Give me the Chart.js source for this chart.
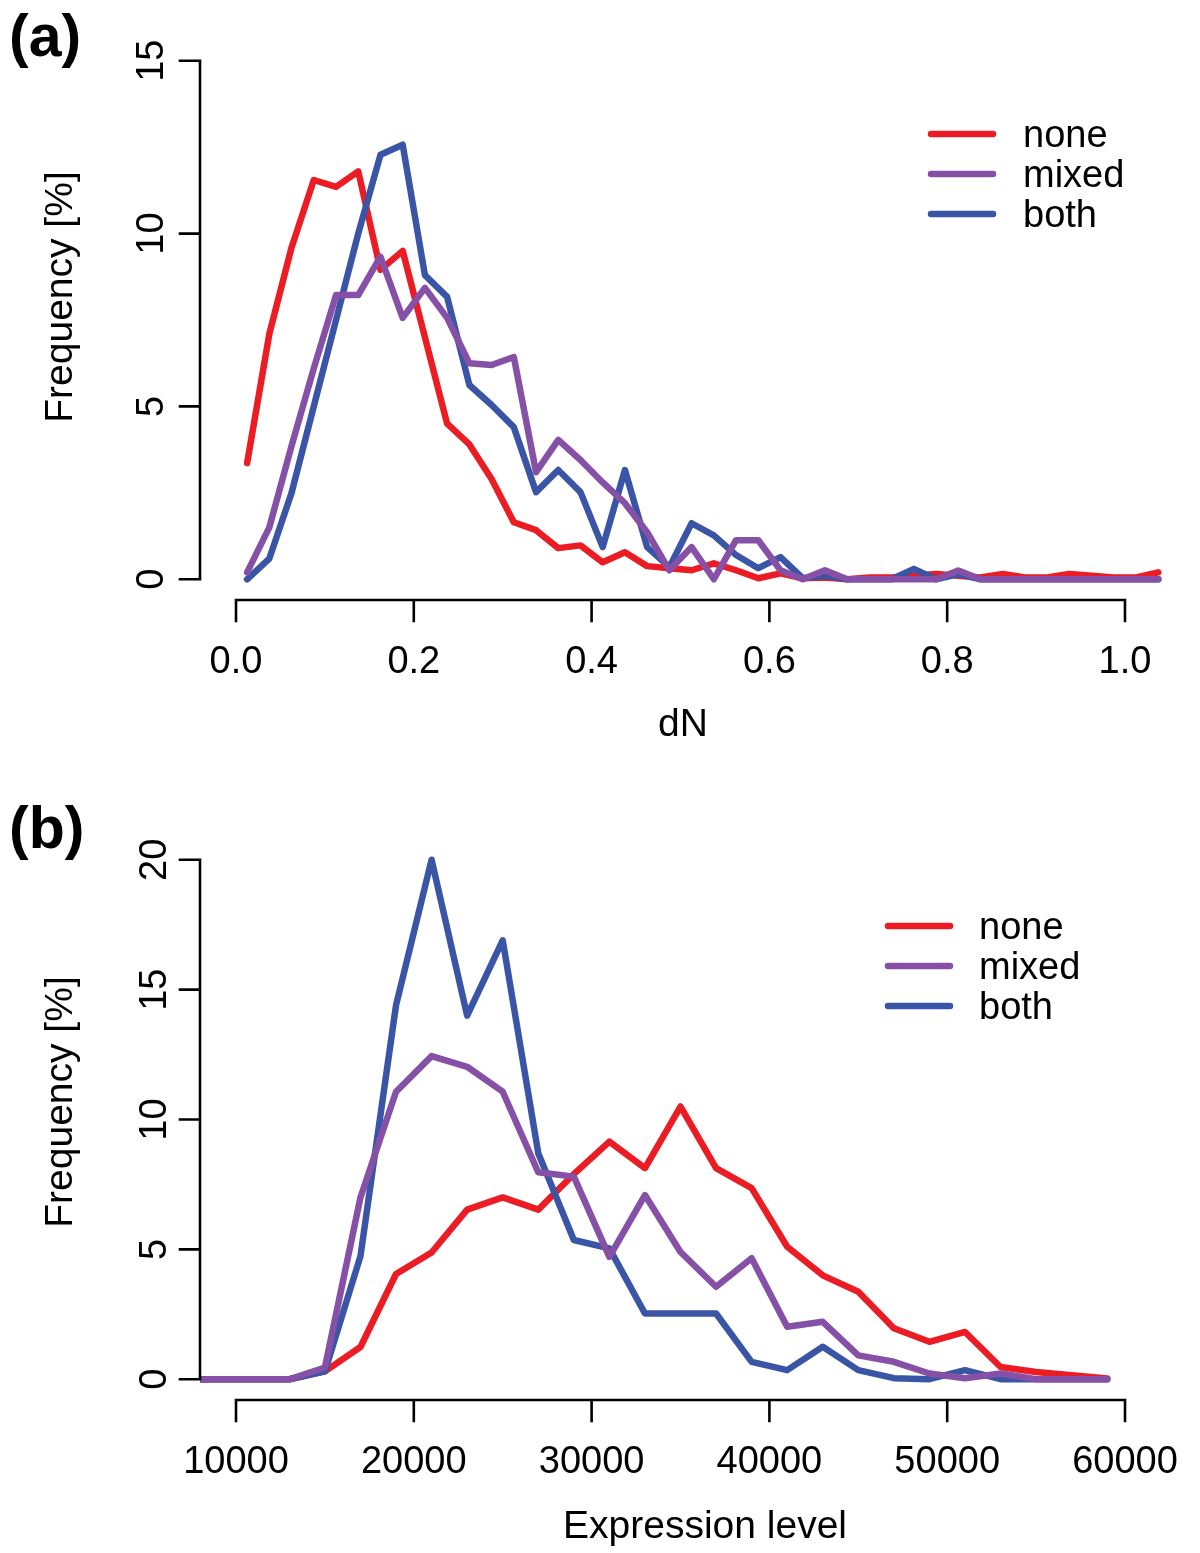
<!DOCTYPE html>
<html><head><meta charset="utf-8">
<script src="https://cdn.jsdelivr.net/npm/chart.js@4.4.1/dist/chart.umd.min.js"></script>
<style>
html,body{margin:0;padding:0;background:#fff;}
#wrap{position:relative;width:1200px;height:1553px;overflow:hidden;}
#ca{position:absolute;left:0;top:0;}
#cb{position:absolute;left:0;top:776px;}
</style></head><body>
<div id="wrap">
<canvas id="ca" width="1200" height="776"></canvas>
<canvas id="cb" width="1200" height="777"></canvas>
</div>
<script>
// ---------- Panel (a): dN ----------
const dnMid = [0.0125,0.0375,0.0625,0.0875,0.1125,0.1375,0.1625,0.1875,0.2125,0.2375,
  0.2625,0.2875,0.3125,0.3375,0.3625,0.3875,0.4125,0.4375,0.4625,0.4875,
  0.5125,0.5375,0.5625,0.5875,0.6125,0.6375,0.6625,0.6875,0.7125,0.7375,
  0.7625,0.7875,0.8125,0.8375,0.8625,0.8875,0.9125,0.9375,0.9625,0.9875,
  1.0125,1.0375];
const dnNone  = [3.36,7.1,9.6,11.55,11.35,11.8,8.95,9.5,7.0,4.5,
  3.9,2.9,1.65,1.42,0.9,0.98,0.49,0.78,0.38,0.32,
  0.26,0.46,0.26,0.03,0.17,0.03,0.05,0.0,0.05,0.05,
  0.1,0.15,0.1,0.05,0.15,0.05,0.05,0.15,0.1,0.05,
  0.05,0.2];
const dnMixed = [0.2,1.5,3.86,6.1,8.22,8.22,9.33,7.56,8.43,7.56,
  6.25,6.2,6.43,3.1,4.03,3.45,2.8,2.2,1.36,0.26,
  0.93,0.0,1.13,1.13,0.26,0.0,0.26,0.0,0.0,0.0,
  0.0,0.0,0.25,0.0,0.0,0.0,0.0,0.0,0.0,0.0,
  0.0,0.0];
const dnBoth  = [0.0,0.6,2.5,5.0,7.5,10.0,12.28,12.57,8.8,8.17,
  5.62,5.04,4.4,2.52,3.16,2.52,0.93,3.16,0.93,0.35,
  1.62,1.27,0.7,0.32,0.64,0.03,0.1,0.0,0.0,0.0,
  0.3,0.0,0.15,0.0,0.0,0.0,0.0,0.0,0.0,0.0,
  0.0,0.0];
const dnXTicks = [0.0,0.2,0.4,0.6,0.8,1.0];
const dnXLabels = ["0.0","0.2","0.4","0.6","0.8","1.0"];
const dnYTicks = [0,5,10,15];

// ---------- Panel (b): Expression level ----------
const exMid = [7000,9000,11000,13000,15000,17000,19000,21000,23000,25000,
  27000,29000,31000,33000,35000,37000,39000,41000,43000,45000,
  47000,49000,51000,53000,55000,57000,59000];
const exNone  = [0,0,0,0,0.3,1.24,4.05,4.88,6.53,7.0,
  6.53,7.9,9.15,8.13,10.5,8.13,7.36,5.1,4.0,3.37,
  1.96,1.44,1.82,0.47,0.28,0.15,0.03];
const exMixed = [0,0,0,0,0.45,7.0,11.07,12.44,12.03,11.07,
  7.97,7.8,4.71,7.09,4.9,3.56,4.66,2.02,2.21,0.92,
  0.67,0.22,0.04,0.22,0,0,0];
const exBoth  = [0,0,0,0,0.3,4.74,14.4,20.0,14.0,16.9,
  8.7,5.36,5.04,2.53,2.53,2.53,0.67,0.35,1.25,0.35,
  0.04,0,0.35,0,0,0,0];
const exXTicks = [10000,20000,30000,40000,50000,60000];
const exXLabels = ["10000","20000","30000","40000","50000","60000"];
const exYTicks = [0,5,10,15,20];

const seriesNames = ["none","mixed","both"];
const seriesColors = ["#ec1c24","#8650a6","#3a55a6"];
// stacking of lines: mixed on top, then both, then none
const seriesOrder = [2,0,1];

const FONT = '"Liberation Sans", Arial, Helvetica, sans-serif';

function pts(xs, ys){ return xs.map((x,i)=>({x:x, y:ys[i]})); }

function makeDatasets(xs, arrs){
  return arrs.map((a,i)=>({
    label: seriesNames[i],
    data: pts(xs, a),
    order: seriesOrder[i],
    borderColor: seriesColors[i],
    backgroundColor: seriesColors[i],
    borderWidth: 6.5,
    pointRadius: 0,
    tension: 0,
    fill: false,
    borderJoinStyle: 'round',
    borderCapStyle: 'round',
    clip: 0
  }));
}

function rPlugin(cfg){
  return {
    id: 'rStyle',
    afterDraw(chart){
      const ctx = chart.ctx, xs = chart.scales.x, ys = chart.scales.y, ca = chart.chartArea;
      ctx.save();
      ctx.strokeStyle = '#000'; ctx.fillStyle = '#000';
      ctx.lineWidth = 2.6; ctx.lineCap = 'square';
      // x axis
      const xb = ca.bottom;
      const xa0 = xs.getPixelForValue(cfg.xTicks[0]);
      const xa1 = xs.getPixelForValue(cfg.xTicks[cfg.xTicks.length-1]);
      ctx.beginPath();
      ctx.moveTo(xa0, xb); ctx.lineTo(xa1, xb);
      cfg.xTicks.forEach(v=>{ const p = xs.getPixelForValue(v); ctx.moveTo(p, xb); ctx.lineTo(p, xb+21); });
      // y axis
      const yl = ca.left;
      const ya0 = ys.getPixelForValue(cfg.yTicks[0]);
      const ya1 = ys.getPixelForValue(cfg.yTicks[cfg.yTicks.length-1]);
      ctx.moveTo(yl, ya0); ctx.lineTo(yl, ya1);
      cfg.yTicks.forEach(v=>{ const p = ys.getPixelForValue(v); ctx.moveTo(yl, p); ctx.lineTo(yl-20, p); });
      ctx.stroke();

      // tick labels
      ctx.font = '38px ' + FONT;
      ctx.textAlign = 'center'; ctx.textBaseline = 'alphabetic';
      cfg.xTicks.forEach((v,i)=>{ ctx.fillText(cfg.xLabels[i], xs.getPixelForValue(v), xb + 72.5); });
      cfg.yTicks.forEach(v=>{
        const p = ys.getPixelForValue(v);
        ctx.save(); ctx.translate(cfg.yLabelX, p); ctx.rotate(-Math.PI/2);
        ctx.fillText(String(v), 0, 0); ctx.restore();
      });
      // axis titles
      ctx.font = '39px ' + FONT;
      ctx.fillText(cfg.xTitle, cfg.xTitleX, cfg.xTitleY);
      ctx.save(); ctx.translate(cfg.yTitleX, cfg.yTitleY); ctx.rotate(-Math.PI/2);
      ctx.fillText('Frequency [%]', 0, 0); ctx.restore();

      // panel label
      ctx.font = 'bold 59px ' + FONT;
      ctx.textAlign = 'left';
      ctx.fillText(cfg.panel, 9, cfg.panelY);

      // legend
      ctx.font = '38px ' + FONT;
      ctx.lineCap = 'round'; ctx.lineWidth = 6.5;
      seriesNames.forEach((name,i)=>{
        const y = cfg.legY + i*40;
        ctx.strokeStyle = seriesColors[i];
        ctx.beginPath(); ctx.moveTo(cfg.legX0, y); ctx.lineTo(cfg.legX1, y); ctx.stroke();
        ctx.fillStyle = '#000';
        ctx.textAlign = 'left';
        ctx.fillText(name, cfg.legTextX, y + 13);
      });
      ctx.restore();
    }
  };
}

function makeChart(id, xs, arrs, xmin, xmax, ymin, ymax, pad, cfg){
  return new Chart(document.getElementById(id), {
    type: 'line',
    data: { datasets: makeDatasets(xs, arrs) },
    options: {
      responsive: false,
      animation: false,
      devicePixelRatio: 1,
      layout: { padding: pad },
      plugins: { legend: { display: false }, tooltip: { enabled: false } },
      scales: {
        x: { type: 'linear', min: xmin, max: xmax, display: false },
        y: { type: 'linear', min: ymin, max: ymax, display: false }
      }
    },
    plugins: [rPlugin(cfg)]
  });
}

// Panel (a)
makeChart('ca', dnMid, [dnNone, dnMixed, dnBoth], -0.0405, 1.0799, -0.6, 15.6,
  { left: 200, right: 4, top: 40, bottom: 176 },
  { xTicks: dnXTicks, xLabels: dnXLabels, yTicks: dnYTicks,
    yLabelX: 163, xTitle: 'dN', xTitleX: 683, xTitleY: 735.5,
    yTitleX: 72, yTitleY: 297, panel: '(a)', panelY: 56,
    legX0: 931, legX1: 993, legY: 134, legTextX: 1023 });

// Panel (b)
makeChart('cb', exMid, [exNone, exMixed, exBoth], 7975, 63993, -0.8, 20.8,
  { left: 200, right: 4, top: 63, bottom: 153 },
  { xTicks: exXTicks, xLabels: exXLabels, yTicks: exYTicks,
    yLabelX: 166, xTitle: 'Expression level', xTitleX: 705, xTitleY: 761.5,
    yTitleX: 72, yTitleY: 326, panel: '(b)', panelY: 72,
    legX0: 888, legX1: 950, legY: 150, legTextX: 979 });
</script>
</body></html>
